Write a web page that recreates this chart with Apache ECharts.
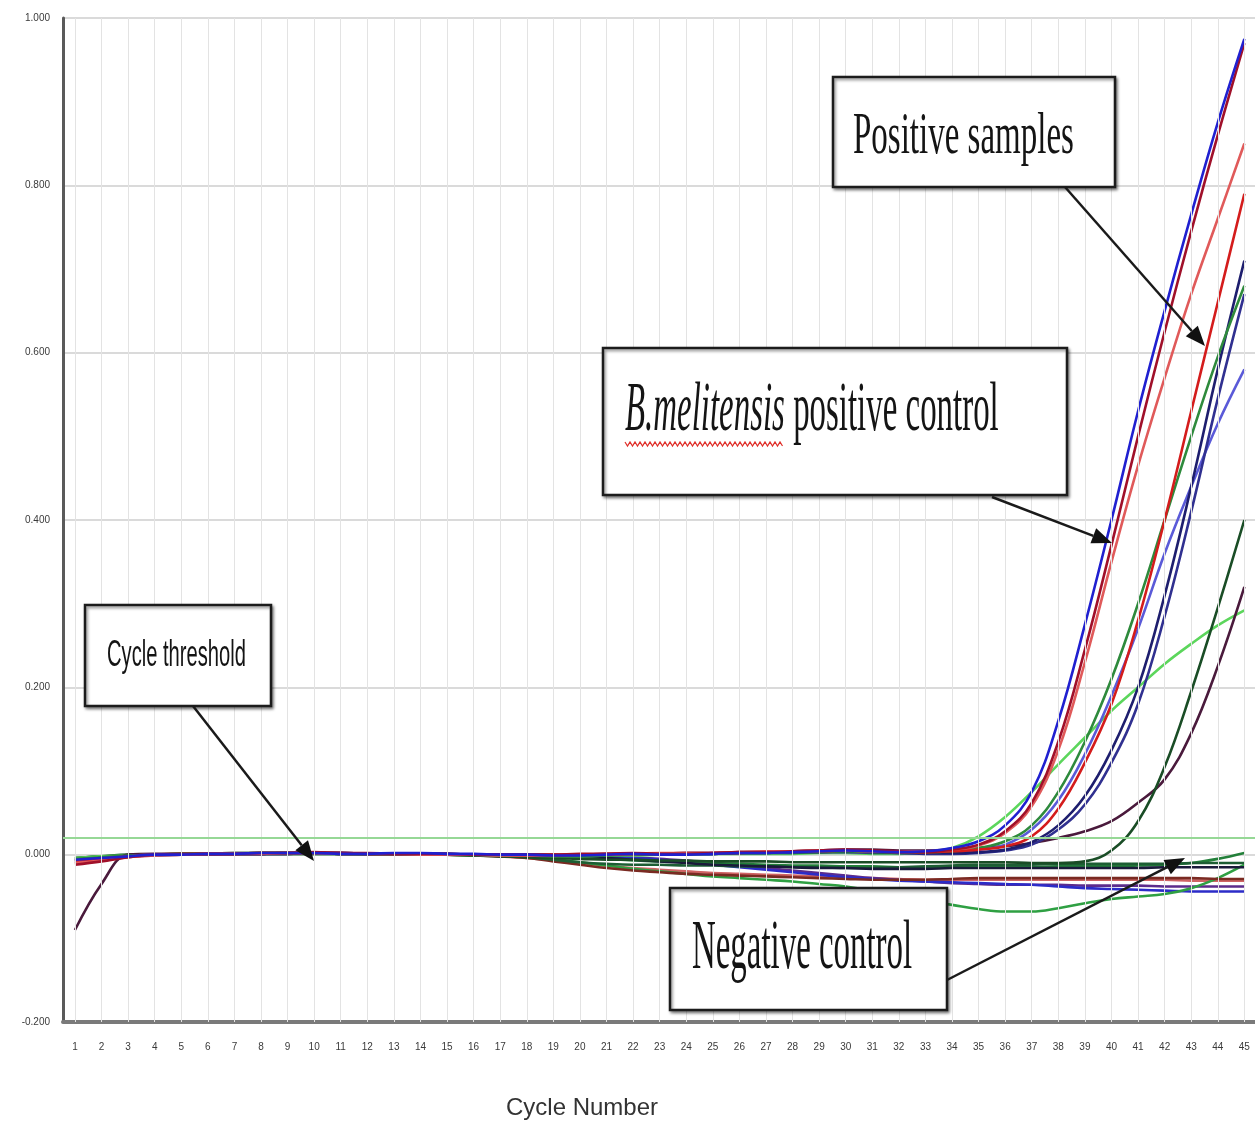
<!DOCTYPE html>
<html>
<head>
<meta charset="utf-8">
<title>Amplification plot</title>
<script src="https://cdn.jsdelivr.net/npm/echarts@6/dist/echarts.min.js"></script>
<style>
	html, body { margin: 0; padding: 0; background: #fff; }
	#chart { width: 1255px; height: 1124px; }
</style>
</head>
<body>
<div id="chart"></div>
<script>
// 循環數 1..45
var cycles = [1, 2, 3, 4, 5, 6, 7, 8, 9, 10, 11, 12, 13, 14, 15, 16, 17, 18, 19, 20, 21, 22, 23, 24, 25, 26, 27, 28, 29, 30, 31, 32, 33, 34, 35, 36, 37, 38, 39, 40, 41, 42, 43, 44, 45];
var threshold = 0.024;

// positive samples / positive control
var posBlue = [-0.006, -0.004, -0.002, 0.000, 0.000, 0.001, 0.001, 0.002, 0.002, 0.002, 0.001, 0.001, 0.002, 0.002, 0.001, 0.001, 0.000, 0.000, -0.001, -0.001, 0.000, 0.001, 0.000, 0.000, 0.001, 0.002, 0.002, 0.003, 0.004, 0.005, 0.004, 0.003, 0.004, 0.008, 0.016, 0.035, 0.075, 0.160, 0.275, 0.400, 0.530, 0.650, 0.765, 0.875, 0.975];
var posDarkRed = [-0.012, -0.008, -0.003, 0.000, 0.001, 0.001, 0.001, 0.002, 0.002, 0.003, 0.002, 0.002, 0.001, 0.001, 0.001, 0.000, 0.000, 0.000, 0.000, 0.001, 0.001, 0.002, 0.001, 0.001, 0.002, 0.003, 0.003, 0.004, 0.005, 0.006, 0.005, 0.004, 0.003, 0.006, 0.012, 0.028, 0.062, 0.135, 0.245, 0.370, 0.500, 0.625, 0.745, 0.860, 0.970];
var posLightRed = [-0.010, -0.007, -0.003, -0.001, 0.000, 0.001, 0.001, 0.001, 0.002, 0.002, 0.001, 0.001, 0.001, 0.000, 0.000, 0.000, -0.001, -0.001, 0.000, 0.000, 0.001, 0.001, 0.002, 0.002, 0.002, 0.003, 0.004, 0.004, 0.005, 0.005, 0.004, 0.004, 0.004, 0.006, 0.011, 0.026, 0.058, 0.125, 0.230, 0.350, 0.465, 0.570, 0.670, 0.760, 0.850];
var posRed = [-0.008, -0.005, -0.002, 0.000, 0.000, 0.001, 0.001, 0.002, 0.002, 0.002, 0.002, 0.001, 0.001, 0.001, 0.000, 0.000, 0.000, -0.001, -0.001, 0.000, 0.000, 0.001, 0.001, 0.002, 0.002, 0.002, 0.003, 0.004, 0.004, 0.005, 0.004, 0.003, 0.003, 0.004, 0.006, 0.010, 0.022, 0.055, 0.110, 0.180, 0.280, 0.400, 0.530, 0.660, 0.790];
var posGreen = [-0.005, -0.003, -0.001, 0.000, 0.001, 0.001, 0.002, 0.002, 0.002, 0.002, 0.001, 0.001, 0.001, 0.001, 0.000, 0.000, -0.001, -0.001, -0.002, -0.002, -0.001, 0.000, 0.000, 0.001, 0.001, 0.002, 0.002, 0.003, 0.003, 0.004, 0.003, 0.003, 0.003, 0.004, 0.008, 0.016, 0.035, 0.075, 0.135, 0.210, 0.300, 0.400, 0.500, 0.595, 0.680];
var posNavy = [-0.007, -0.004, -0.002, 0.000, 0.000, 0.001, 0.001, 0.001, 0.002, 0.002, 0.002, 0.001, 0.001, 0.001, 0.001, 0.000, 0.000, 0.000, -0.001, -0.001, 0.000, 0.000, 0.001, 0.001, 0.001, 0.002, 0.002, 0.003, 0.003, 0.004, 0.003, 0.002, 0.002, 0.002, 0.003, 0.006, 0.015, 0.035, 0.070, 0.125, 0.200, 0.310, 0.440, 0.580, 0.710];
var posNavy2 = [-0.006, -0.004, -0.002, -0.001, 0.000, 0.000, 0.001, 0.001, 0.001, 0.002, 0.002, 0.001, 0.001, 0.000, 0.000, 0.000, -0.001, -0.001, -0.001, 0.000, 0.000, 0.000, 0.001, 0.001, 0.001, 0.002, 0.002, 0.002, 0.003, 0.003, 0.002, 0.002, 0.001, 0.001, 0.002, 0.005, 0.012, 0.030, 0.060, 0.110, 0.180, 0.285, 0.410, 0.545, 0.670];
var posViolet = [-0.009, -0.006, -0.002, 0.000, 0.000, 0.001, 0.001, 0.001, 0.002, 0.002, 0.001, 0.001, 0.001, 0.001, 0.000, 0.000, 0.000, 0.000, -0.001, 0.000, 0.000, 0.001, 0.001, 0.002, 0.002, 0.002, 0.003, 0.003, 0.004, 0.004, 0.004, 0.003, 0.003, 0.004, 0.006, 0.012, 0.030, 0.065, 0.120, 0.190, 0.270, 0.360, 0.440, 0.515, 0.580];
var posLime = [-0.004, -0.002, -0.001, 0.000, 0.001, 0.001, 0.001, 0.002, 0.002, 0.002, 0.001, 0.001, 0.001, 0.000, 0.000, -0.001, -0.001, -0.002, -0.002, -0.002, -0.001, -0.001, 0.000, 0.000, 0.001, 0.001, 0.001, 0.001, 0.002, 0.002, 0.001, 0.001, 0.003, 0.008, 0.022, 0.045, 0.075, 0.108, 0.140, 0.172, 0.200, 0.228, 0.252, 0.274, 0.292];
var posDeepGreen = [-0.006, -0.004, -0.002, 0.000, 0.000, 0.001, 0.001, 0.001, 0.001, 0.001, 0.001, 0.000, 0.000, 0.000, 0.000, -0.001, -0.002, -0.003, -0.004, -0.005, -0.006, -0.006, -0.007, -0.007, -0.008, -0.008, -0.008, -0.009, -0.009, -0.009, -0.009, -0.009, -0.009, -0.009, -0.009, -0.009, -0.010, -0.010, -0.008, 0.005, 0.040, 0.105, 0.195, 0.295, 0.400];
var posMaroon = [-0.090, -0.035, 0.000, 0.001, 0.001, 0.001, 0.002, 0.002, 0.002, 0.002, 0.001, 0.001, 0.001, 0.001, 0.000, 0.000, 0.000, 0.000, 0.000, 0.000, 0.001, 0.001, 0.001, 0.002, 0.002, 0.003, 0.003, 0.004, 0.005, 0.006, 0.006, 0.005, 0.005, 0.006, 0.008, 0.010, 0.014, 0.020, 0.028, 0.040, 0.062, 0.090, 0.145, 0.225, 0.320];

// negative control / negative samples
var negDarkGreen = [-0.004, -0.002, 0.000, 0.000, 0.001, 0.001, 0.001, 0.002, 0.002, 0.002, 0.001, 0.001, 0.001, 0.001, 0.000, 0.000, -0.001, -0.003, -0.006, -0.009, -0.011, -0.012, -0.012, -0.013, -0.013, -0.014, -0.014, -0.015, -0.015, -0.016, -0.016, -0.015, -0.014, -0.013, -0.012, -0.012, -0.012, -0.011, -0.011, -0.011, -0.011, -0.011, -0.010, -0.010, -0.010];
var negBrown = [-0.010, -0.006, -0.002, 0.000, 0.000, 0.001, 0.001, 0.001, 0.002, 0.002, 0.001, 0.001, 0.001, 0.000, 0.000, -0.001, -0.002, -0.004, -0.008, -0.012, -0.016, -0.019, -0.021, -0.023, -0.024, -0.025, -0.026, -0.027, -0.028, -0.029, -0.030, -0.030, -0.030, -0.029, -0.028, -0.028, -0.028, -0.028, -0.028, -0.028, -0.028, -0.028, -0.028, -0.029, -0.029];
var negBlue = [-0.006, -0.004, -0.002, 0.000, 0.000, 0.001, 0.001, 0.001, 0.002, 0.002, 0.002, 0.001, 0.001, 0.001, 0.000, 0.000, 0.000, 0.000, -0.001, -0.001, -0.002, -0.004, -0.006, -0.009, -0.012, -0.015, -0.018, -0.021, -0.024, -0.027, -0.029, -0.031, -0.032, -0.033, -0.034, -0.035, -0.036, -0.038, -0.040, -0.041, -0.042, -0.043, -0.044, -0.044, -0.044];
var negGreenDip = [-0.005, -0.003, -0.001, 0.000, 0.000, 0.001, 0.001, 0.001, 0.001, 0.001, 0.001, 0.001, 0.000, 0.000, 0.000, 0.000, -0.001, -0.002, -0.005, -0.009, -0.013, -0.017, -0.020, -0.023, -0.026, -0.028, -0.030, -0.032, -0.035, -0.038, -0.043, -0.050, -0.055, -0.060, -0.065, -0.068, -0.068, -0.064, -0.058, -0.053, -0.050, -0.047, -0.040, -0.028, -0.012];
var negBlack = [-0.008, -0.005, -0.002, 0.000, 0.000, 0.001, 0.001, 0.002, 0.002, 0.002, 0.002, 0.001, 0.001, 0.001, 0.001, 0.000, 0.000, 0.000, -0.001, -0.002, -0.004, -0.006, -0.008, -0.010, -0.012, -0.013, -0.014, -0.015, -0.016, -0.016, -0.017, -0.017, -0.017, -0.016, -0.016, -0.016, -0.016, -0.016, -0.016, -0.016, -0.016, -0.015, -0.015, -0.015, -0.015];
var negGreen = [-0.004, -0.002, -0.001, 0.000, 0.000, 0.001, 0.001, 0.001, 0.002, 0.002, 0.001, 0.001, 0.001, 0.000, 0.000, 0.000, 0.000, -0.001, -0.002, -0.003, -0.005, -0.007, -0.008, -0.009, -0.010, -0.011, -0.012, -0.013, -0.013, -0.014, -0.014, -0.015, -0.015, -0.015, -0.015, -0.015, -0.015, -0.014, -0.014, -0.014, -0.013, -0.012, -0.010, -0.005, 0.002];
var negPurple = [-0.007, -0.004, -0.002, 0.000, 0.000, 0.001, 0.001, 0.001, 0.001, 0.002, 0.001, 0.001, 0.001, 0.000, 0.000, 0.000, 0.000, 0.000, -0.001, -0.001, -0.002, -0.003, -0.005, -0.007, -0.010, -0.013, -0.016, -0.019, -0.022, -0.025, -0.028, -0.030, -0.032, -0.034, -0.035, -0.036, -0.036, -0.036, -0.037, -0.037, -0.037, -0.038, -0.038, -0.038, -0.038];
var negSalmon = [-0.011, -0.007, -0.003, -0.001, 0.000, 0.000, 0.001, 0.001, 0.001, 0.002, 0.001, 0.001, 0.000, 0.000, 0.000, -0.001, -0.002, -0.004, -0.007, -0.010, -0.013, -0.016, -0.018, -0.020, -0.022, -0.023, -0.024, -0.025, -0.026, -0.027, -0.028, -0.029, -0.030, -0.030, -0.030, -0.030, -0.030, -0.030, -0.030, -0.030, -0.030, -0.030, -0.031, -0.031, -0.031];

// 曲線 (先畫陰性, 再畫陽性)
var curves = [
	{ name: "neg salmon", data: negSalmon, color: "#cf6464" },
	{ name: "neg purple", data: negPurple, color: "#5c2c8c" },
	{ name: "neg blue", data: negBlue, color: "#2c2cc8" },
	{ name: "neg green dip", data: negGreenDip, color: "#2fa043" },
	{ name: "neg brown", data: negBrown, color: "#7a2a22" },
	{ name: "neg green", data: negGreen, color: "#23803a" },
	{ name: "neg dark green", data: negDarkGreen, color: "#1d5e34" },
	{ name: "neg black", data: negBlack, color: "#1a1a3a" },
	{ name: "pos lime", data: posLime, color: "#5cd65c" },
	{ name: "pos maroon", data: posMaroon, color: "#4a1a3c" },
	{ name: "pos deep green", data: posDeepGreen, color: "#1a4d26" },
	{ name: "pos violet", data: posViolet, color: "#5a5ad8" },
	{ name: "pos navy2", data: posNavy2, color: "#303090" },
	{ name: "pos navy", data: posNavy, color: "#1e1e6e" },
	{ name: "pos green", data: posGreen, color: "#2e8a3c" },
	{ name: "pos red", data: posRed, color: "#d41c1c" },
	{ name: "pos light red", data: posLightRed, color: "#e05a5a" },
	{ name: "pos dark red", data: posDarkRed, color: "#a0102a" },
	{ name: "pos blue", data: posBlue, color: "#2020d0" }
];

// 方框
function box(x, y, w, h) {
	return {
		type: "rect",
		shape: { x: x, y: y, width: w, height: h },
		style: {
			fill: "#fff",
			stroke: "#1c1c1c",
			lineWidth: 2.5,
			shadowBlur: 3,
			shadowOffsetX: 1.5,
			shadowOffsetY: 2,
			shadowColor: "rgba(0,0,0,0.45)"
		},
		z: 100
	};
}

// 箭頭
function arrow(x1, y1, x2, y2) {
	var dx = x2 - x1, dy = y2 - y1;
	var len = Math.sqrt(dx * dx + dy * dy);
	var ux = dx / len, uy = dy / len;
	var hl = 20, hw = 8;
	var bx = x2 - ux * hl, by = y2 - uy * hl;
	return {
		type: "group",
		z: 100,
		children: [
			{
				type: "line",
				shape: { x1: x1, y1: y1, x2: bx, y2: by },
				style: { stroke: "#1a1a1a", lineWidth: 2.5 },
				z: 100
			},
			{
				type: "polygon",
				shape: { points: [[x2, y2], [bx - uy * hw, by + ux * hw], [bx + uy * hw, by - ux * hw]] },
				style: { fill: "#111" },
				z: 100
			}
		]
	};
}

// 紅色波浪底線
function wavy(x1, x2, y) {
	var pts = [];
	for (var x = x1, k = 0; x <= x2; x += 2.5, k++) {
		pts.push([x, k % 2 ? y + 2 : y - 2]);
	}
	return {
		type: "polyline",
		shape: { points: pts },
		style: { stroke: "#e0302a", lineWidth: 1.2, fill: null },
		z: 101
	};
}

function label(x, y, text, font, size, sx, extra) {
	var el = {
		type: "text",
		x: x,
		y: y,
		scaleX: sx,
		z: 101,
		style: {
			text: text,
			fontFamily: font,
			fontSize: size,
			fill: "#141414",
			textAlign: "left",
			verticalAlign: "middle"
		}
	};
	if (extra) el.style.rich = extra;
	return el;
}

function Amplification(dom) {
	var myChart = echarts.init(dom, null, { renderer: "canvas" });

	// 垂直格線 + threshold
	var guideLines = cycles.map(function (c) {
		return { xAxis: c, lineStyle: { color: "#e3e3e3", width: 1, type: "solid" } };
	});
	guideLines.push({ yAxis: threshold, lineStyle: { color: "#96d896", width: 2, type: "solid" } });

	var series = curves.map(function (c, idx) {
		return {
			name: c.name,
			type: "line",
			z: idx === 0 ? 1 : 2,
			smooth: 0.4,
			symbol: "none",
			silent: true,
			lineStyle: { color: c.color, width: 2.6 },
			data: c.data.map(function (v, i) { return [cycles[i], v]; }),
			markLine: idx === 0 ? {
				silent: true,
				symbol: ["none", "none"],
				label: { show: false },
				data: guideLines
			} : undefined
		};
	});

	var option = {
		backgroundColor: "#fff",
		animation: false,
		grid: { left: 63, right: 0, top: 18, bottom: 102, outerBoundsMode: "none" },
		xAxis: {
			type: "value",
			min: 0.55,
			max: 45.4,
			name: "Cycle Number",
			nameLocation: "middle",
			nameGap: 74,
			nameTextStyle: {
				fontFamily: "Liberation Sans",
				fontSize: 24,
				color: "#333",
				padding: [0, 154, 0, 0]
			},
			axisLine: { show: true, onZero: false, lineStyle: { color: "#7a7a7a", width: 4 } },
			axisTick: { show: false, customValues: cycles },
			axisLabel: {
				customValues: cycles,
				margin: 20,
				fontFamily: "Liberation Sans",
				fontSize: 10,
				color: "#3a3a3a"
			},
			splitLine: { show: false }
		},
		yAxis: {
			type: "value",
			min: -0.2,
			max: 1.0,
			interval: 0.2,
			axisLine: { show: true, onZero: false, lineStyle: { color: "#5a5a5a", width: 3 } },
			axisTick: { show: false },
			axisLabel: {
				margin: 13,
				fontFamily: "Liberation Sans",
				fontSize: 10,
				color: "#3a3a3a",
				formatter: function (v) { return v.toFixed(3); }
			},
			splitLine: { show: true, lineStyle: { color: "#dadada", width: 2 } }
		},
		graphic: [
			// Positive samples
			box(833, 77, 282, 110),
			label(853, 137, "Positive samples", "Liberation Serif", 60, 0.55),
			arrow(1065, 187, 1205, 346),
			// B.melitensis positive control
			box(603, 348, 464, 147),
			label(625, 412, "{i|B.melitensis} positive control", "Liberation Serif", 70, 0.47, {
				i: { fontStyle: "italic", fontFamily: "Liberation Serif", fontSize: 70, fill: "#141414" }
			}),
			wavy(625, 783, 444),
			arrow(992, 497, 1112, 543),
			// Cycle threshold
			box(85, 605, 186, 101),
			label(107, 656, "Cycle threshold", "Liberation Sans", 36, 0.56),
			arrow(193, 706, 314, 861),
			// Negative control
			box(670, 888, 277, 122),
			label(692, 950, "Negative control", "Liberation Serif", 70, 0.47),
			arrow(947, 980, 1185, 858)
		],
		series: series
	};
	myChart.setOption(option);
	window.addEventListener("resize", myChart.resize);
}

Amplification(document.getElementById("chart"));
</script>
</body>
</html>
